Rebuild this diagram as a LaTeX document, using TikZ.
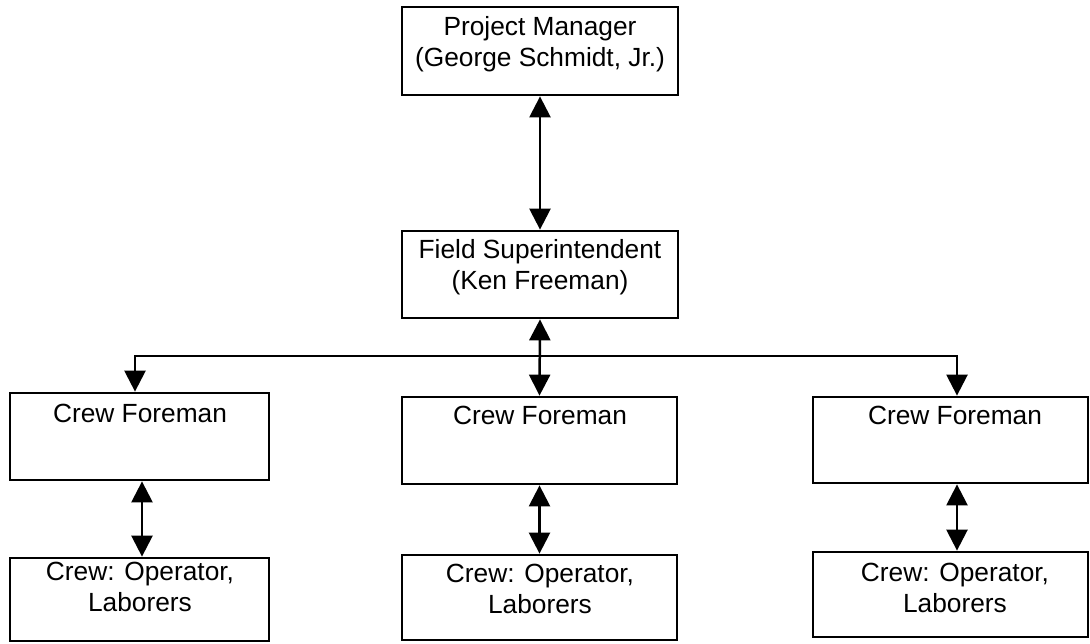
\documentclass[tikz,border=0pt]{standalone}
\usepackage{fontspec}
\setmainfont{Liberation Sans}
\usetikzlibrary{arrows.meta}
\begin{document}
\begin{tikzpicture}[x=1pt,y=-1pt,
  box/.style={draw=black, line width=2.8pt, inner sep=0pt, rectangle},
  txt/.style={align=center, inner sep=0pt, font=\fontsize{26.3}{31}\selectfont},
  conn/.style={line width=2.5pt, draw=black},
  dbl/.style={conn, {Triangle[width=21pt,length=21pt]}-{Triangle[width=21pt,length=21pt]}}]
\useasboundingbox[fill=white] (0,0) rectangle (1090,643);
% boxes
\node[box, minimum width=276pt, minimum height=88pt] (pm) at (540,51) {};
\node[box, minimum width=276pt, minimum height=87pt] (fs) at (540,274.5) {};
\node[box, minimum width=259pt, minimum height=87pt] (cfl) at (139.5,436.5) {};
\node[box, minimum width=275pt, minimum height=87pt] (cfm) at (539.5,440.5) {};
\node[box, minimum width=275pt, minimum height=86pt] (cfr) at (950.5,440) {};
\node[box, minimum width=259pt, minimum height=83pt] (crl) at (139.5,599.5) {};
\node[box, minimum width=275pt, minimum height=85pt] (crm) at (539.5,597.5) {};
\node[box, minimum width=275pt, minimum height=85pt] (crr) at (950.5,594.5) {};
% texts
\node[txt] (pmt) at (540,44.5) {Project Manager\\(George Schmidt, Jr.)};
\node[txt] (fst) at (540,267) {Field Superintendent\\(Ken Freeman)};
\node[txt] (cflt) at (140,413) {Crew Foreman};
\node[txt] (cfmt) at (540,415) {Crew Foreman};
\node[txt] (cfrt) at (955,415) {Crew Foreman};
\node[txt] (crlt) at (140,587) {Crew: Operator,\\Laborers};
\node[txt] (crmt) at (540,589) {Crew: Operator,\\Laborers};
\node[txt] (crrt) at (955,587.5) {Crew: Operator,\\Laborers};
% connectors
\coordinate (hl) at (135,356);
\coordinate (hr) at (957,356);
\draw[dbl] (pm.south) -- (fs.north);
\draw[dbl] (fs.south) -- (cfm.north);
\draw[dbl] (hl |- cfl.north) -- (hl) -- (hr) -- (hr |- cfr.north);
\draw[dbl] ([xshift=2.5pt]cfl.south) -- ([xshift=2.5pt]cfl.south |- crl.north);
\draw[dbl] (cfm.south) -- (crm.north);
\draw[dbl] (hr |- cfr.south) -- (hr |- crr.north);
\end{tikzpicture}
\end{document}
